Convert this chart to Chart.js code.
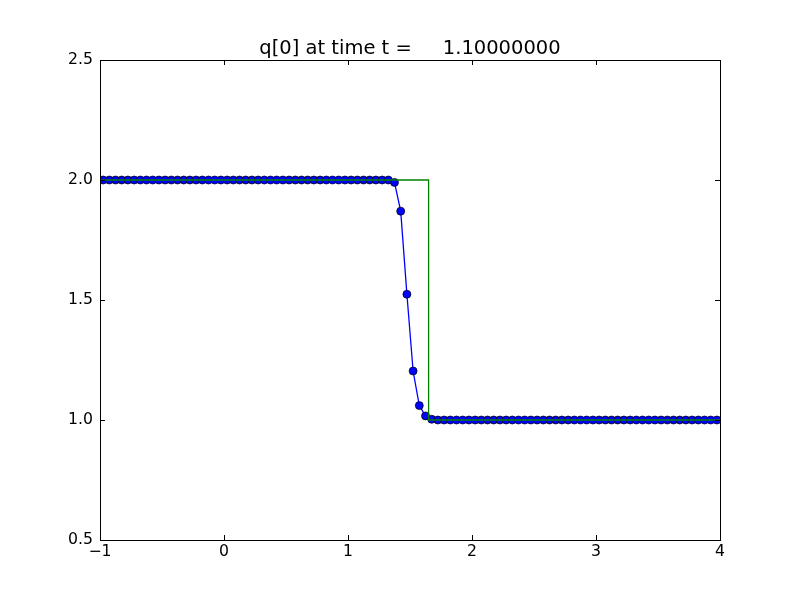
<!DOCTYPE html>
<html>
<head>
<meta charset="utf-8">
<script src="https://cdn.jsdelivr.net/npm/chart.js@4/dist/chart.umd.min.js"></script>
<style>
  body { margin: 0; background: #fff; }
  canvas { display: block; }
</style>
</head>
<body>
<canvas id="chart" width="800" height="600"></canvas>
<script>
// cell centres of the numerical solution
const xCells = [
  -0.975, -0.925, -0.875, -0.825, -0.775, -0.725, -0.675, -0.625, -0.575, -0.525,
  -0.475, -0.425, -0.375, -0.325, -0.275, -0.225, -0.175, -0.125, -0.075, -0.025,
  0.025, 0.075, 0.125, 0.175, 0.225, 0.275, 0.325, 0.375, 0.425, 0.475,
  0.525, 0.575, 0.625, 0.675, 0.725, 0.775, 0.825, 0.875, 0.925, 0.975,
  1.025, 1.075, 1.125, 1.175, 1.225, 1.275, 1.325, 1.375, 1.425, 1.475,
  1.525, 1.575, 1.625, 1.675, 1.725, 1.775, 1.825, 1.875, 1.925, 1.975,
  2.025, 2.075, 2.125, 2.175, 2.225, 2.275, 2.325, 2.375, 2.425, 2.475,
  2.525, 2.575, 2.625, 2.675, 2.725, 2.775, 2.825, 2.875, 2.925, 2.975,
  3.025, 3.075, 3.125, 3.175, 3.225, 3.275, 3.325, 3.375, 3.425, 3.475,
  3.525, 3.575, 3.625, 3.675, 3.725, 3.775, 3.825, 3.875, 3.925, 3.975
];
const qValues = [
  2, 2, 2, 2, 2, 2, 2, 2, 2, 2,
  2, 2, 2, 2, 2, 2, 2, 2, 2, 2,
  2, 2, 2, 2, 2, 2, 2, 2, 2, 2,
  2, 2, 2, 2, 2, 2, 2, 2, 2, 2,
  2, 2, 2, 2, 2, 2, 2, 1.99, 1.87, 1.524,
  1.204, 1.06, 1.017, 1.003, 1, 1, 1, 1, 1, 1,
  1, 1, 1, 1, 1, 1, 1, 1, 1, 1,
  1, 1, 1, 1, 1, 1, 1, 1, 1, 1,
  1, 1, 1, 1, 1, 1, 1, 1, 1, 1,
  1, 1, 1, 1, 1, 1, 1, 1, 1, 1
];
// exact solution (shock at x = 1.65)
const exactX = [-1, 1.65, 1.65, 4];
const exactQ = [2, 2, 1, 1];

const xTicks = [-1, 0, 1, 2, 3, 4];
const yTicks = [0.5, 1.0, 1.5, 2.0, 2.5];
const titleText = 'q[0] at time t =     1.10000000';

const FONT = 'DejaVu Sans';

// matplotlib-style frame, inward ticks on all sides, and title
const framePlugin = {
  id: 'frame',
  afterDraw(chart) {
    const { ctx, chartArea: a, scales } = chart;
    ctx.save();
    ctx.strokeStyle = '#000';
    ctx.lineWidth = 1;
    const tl = 5;
    ctx.beginPath();
    xTicks.forEach(v => {
      const px = Math.round(scales.x.getPixelForValue(v)) + 0.5;
      ctx.moveTo(px, a.bottom); ctx.lineTo(px, a.bottom - tl);
      ctx.moveTo(px, a.top); ctx.lineTo(px, a.top + tl);
    });
    yTicks.forEach(v => {
      const py = Math.round(scales.y.getPixelForValue(v)) + 0.5;
      ctx.moveTo(a.left, py); ctx.lineTo(a.left + tl, py);
      ctx.moveTo(a.right, py); ctx.lineTo(a.right - tl, py);
    });
    ctx.stroke();
    ctx.strokeRect(Math.round(a.left) + 0.5, Math.round(a.top) + 0.5,
      Math.round(a.right - a.left), Math.round(a.bottom - a.top));
    ctx.fillStyle = '#000';
    ctx.font = '19.5px "' + FONT + '"';
    ctx.textAlign = 'center';
    ctx.textBaseline = 'alphabetic';
    ctx.fillText(titleText, (a.left + a.right) / 2, 54);
    ctx.restore();
  }
};

new Chart(document.getElementById('chart'), {
  type: 'scatter',
  data: {
    datasets: [
      {
        label: 'exact',
        data: exactX.map((x, i) => ({ x, y: exactQ[i] })),
        showLine: true,
        borderColor: '#008000',
        borderWidth: 1.3,
        pointRadius: 0,
        order: 0
      },
      {
        label: 'q',
        data: xCells.map((x, i) => ({ x, y: qValues[i] })),
        showLine: true,
        borderColor: '#0000ff',
        borderWidth: 1.3,
        pointRadius: 4,
        pointBackgroundColor: '#0000ff',
        pointBorderColor: '#000',
        pointBorderWidth: 0.7,
        order: 1
      }
    ]
  },
  options: {
    responsive: false,
    animation: false,
    layout: { padding: { left: 0, right: 80, top: 60, bottom: 0 } },
    plugins: { legend: { display: false }, tooltip: { enabled: false }, title: { display: false } },
    scales: {
      x: {
        type: 'linear', min: -1, max: 4,
        afterBuildTicks: s => { s.ticks = xTicks.map(v => ({ value: v })); },
        afterFit: s => { s.height = 60; },
        grid: { display: false, drawTicks: false },
        border: { display: false },
        ticks: {
          color: '#000', padding: 3, maxRotation: 0,
          font: { family: FONT, size: 15.7 },
          callback: v => String(v).replace('-', '\u2212')
        }
      },
      y: {
        type: 'linear', min: 0.5, max: 2.5,
        afterBuildTicks: s => { s.ticks = yTicks.map(v => ({ value: v })); },
        afterFit: s => { s.width = 100; },
        grid: { display: false, drawTicks: false },
        border: { display: false },
        ticks: {
          color: '#000', padding: 7,
          font: { family: FONT, size: 15.7 },
          callback: v => v.toFixed(1)
        }
      }
    }
  },
  plugins: [framePlugin]
});
</script>
</body>
</html>
